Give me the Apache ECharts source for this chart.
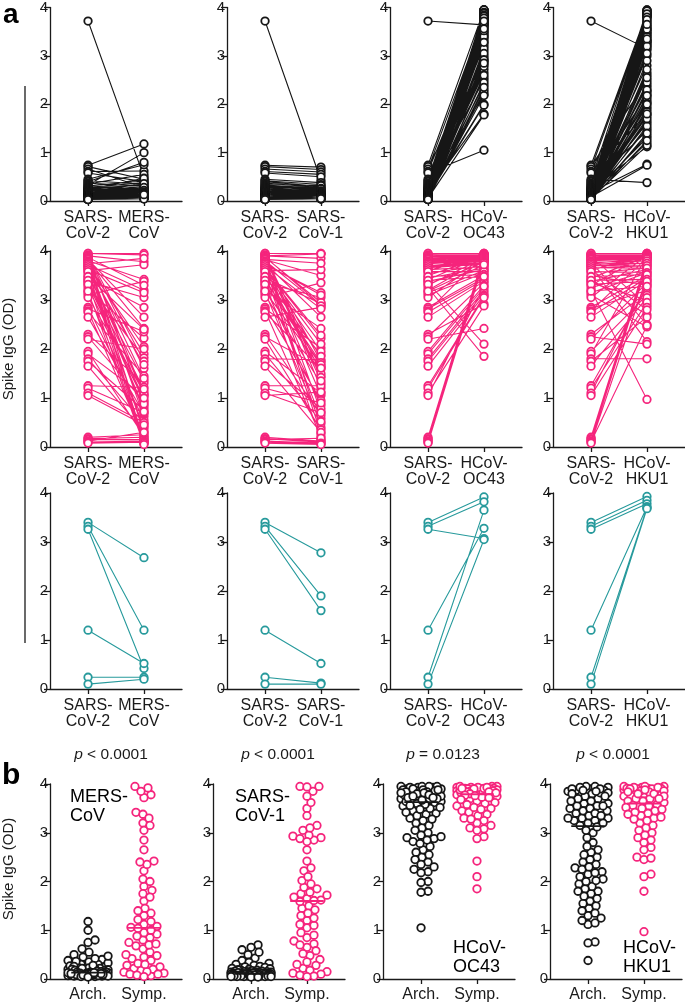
<!DOCTYPE html>
<html><head><meta charset="utf-8">
<script src="https://cdn.jsdelivr.net/npm/echarts@6/dist/echarts.min.js"></script>
<style>html,body{margin:0;padding:0;background:#fff}#c{width:685px;height:1005px}</style>
</head><body><div id="c"></div>
<script>
// ---------------- DATA ----------------
const antigenLabels = ['MERS-\nCoV', 'SARS-\nCoV-1', 'HCoV-\nOC43', 'HCoV-\nHKU1'];
const refLabel = 'SARS-\nCoV-2';
const groupLabels = ['Arch.', 'Symp.'];
const pTexts = ['< 0.0001', '< 0.0001', '= 0.0123', '< 0.0001'];
const yTicks = [0, 1, 2, 3, 4];

// archival (uninfected) samples, paired
const archSARS2 = [3.72,0.74,0.71,0.66,0.61,0.58,0.45,0.42,0.40,0.37,
  0.35,0.33,0.31,0.30,0.28,0.27,0.26,0.25,0.24,0.23,
  0.22,0.21,0.21,0.20,0.19,0.19,0.18,0.18,0.17,0.17,
  0.16,0.16,0.15,0.15,0.15,0.14,0.14,0.14,0.13,0.13,
  0.13,0.12,0.12,0.12,0.12,0.11,0.11,0.11,0.11,0.10,
  0.10,0.10,0.10,0.09,0.09,0.09,0.09,0.09,0.08,0.08,
  0.08,0.08,0.08,0.07,0.07,0.07,0.07,0.07,0.06,0.06,
  0.06,0.06,0.06,0.06,0.05,0.05,0.05,0.05,0.05,0.05,
  0.04,0.04,0.04,0.04,0.04,0.03,0.03,0.03,0.03,0.03];
const archMERS = [0.50,1.18,0.45,0.28,0.62,0.40,0.75,0.35,0.80,0.30,
  0.55,1.00,0.42,0.25,0.38,0.22,0.33,0.20,0.47,0.27,
  0.18,0.30,0.24,0.16,0.36,0.21,0.15,0.26,0.19,0.14,
  0.23,0.17,0.13,0.20,0.12,0.28,0.15,0.11,0.18,0.14,
  0.10,0.22,0.13,0.09,0.16,0.12,0.10,0.19,0.11,0.08,
  0.14,0.12,0.09,0.17,0.10,0.08,0.13,0.11,0.07,0.15,
  0.09,0.12,0.08,0.10,0.06,0.14,0.11,0.07,0.09,0.13,
  0.08,0.10,0.06,0.12,0.09,0.07,0.11,0.05,0.10,0.08,
  0.12,0.06,0.09,0.07,0.11,0.05,0.08,0.10,0.04,0.13];
const archSARS1 = [0.43,0.70,0.65,0.60,0.55,0.50,0.38,0.34,0.30,0.28,
  0.32,0.26,0.24,0.22,0.25,0.20,0.18,0.21,0.17,0.19,
  0.16,0.15,0.18,0.14,0.16,0.13,0.15,0.12,0.14,0.13,
  0.11,0.15,0.12,0.10,0.13,0.11,0.14,0.10,0.12,0.09,
  0.11,0.13,0.10,0.12,0.09,0.11,0.08,0.10,0.12,0.09,
  0.11,0.08,0.10,0.09,0.12,0.08,0.10,0.07,0.09,0.11,
  0.08,0.10,0.07,0.09,0.08,0.06,0.10,0.08,0.07,0.09,
  0.06,0.08,0.07,0.09,0.05,0.08,0.06,0.07,0.05,0.08,
  0.06,0.07,0.05,0.06,0.04,0.07,0.05,0.06,0.04,0.05];
const archOC43 = [3.64,3.95,2.90,3.80,3.45,1.05,3.86,3.20,3.90,2.50,
  3.75,3.93,3.38,2.20,3.84,3.62,3.88,3.00,3.70,3.95,
  2.65,3.55,3.82,1.80,3.90,3.30,3.67,3.86,2.40,3.78,
  3.50,3.93,3.10,3.88,2.82,3.72,3.95,3.25,3.84,2.00,
  3.60,3.90,3.80,2.95,3.67,3.86,3.42,2.30,3.93,3.75,
  3.15,3.88,1.98,3.58,3.84,3.95,2.72,3.70,3.35,3.82,
  3.90,2.55,3.78,3.48,3.86,3.05,3.64,3.88,2.25,3.72,
  3.40,3.84,1.78,3.80,3.52,3.67,2.88,3.75,3.28,2.18,
  3.82,2.60,3.78,3.56,2.92,3.72,2.45,2.78,2.85,2.35];
const archHKU1 = [3.15,3.90,2.50,3.85,1.80,3.30,0.38,3.95,2.20,3.60,
  3.82,1.45,3.50,3.87,2.80,3.25,1.12,3.93,3.40,2.05,
  3.70,3.85,2.35,3.55,1.60,3.90,3.20,0.76,3.80,2.65,
  3.45,3.87,1.95,3.30,3.65,2.15,3.82,1.30,3.95,3.00,
  3.55,2.40,3.75,1.75,3.90,3.35,2.10,3.85,1.20,3.50,
  3.93,2.60,3.70,1.50,3.30,3.82,2.28,0.74,3.60,3.87,
  1.90,3.45,2.90,3.80,1.65,3.25,3.40,2.02,3.75,1.35,
  3.55,3.12,3.65,2.45,3.20,1.85,3.35,2.25,1.15,2.72,
  1.55,2.00,1.70,2.30,1.40,2.55,1.80,2.18,1.25,3.05];

// symptomatic (infected) samples, paired
const sympSARS2 = [3.95,3.93,3.90,3.88,3.85,3.82,3.80,3.78,3.75,3.72,
  3.70,3.68,3.65,3.60,3.55,3.50,3.45,3.42,3.38,3.35,
  3.30,3.25,3.20,3.15,3.10,3.05,2.85,2.82,2.78,2.75,
  2.65,2.30,2.25,2.20,1.95,1.90,1.80,1.75,1.65,1.25,
  1.20,1.10,1.05,0.20,0.17,0.15,0.12,0.10,0.08,3.95,
  3.92,3.90,3.87,3.85,3.83,3.80,3.77,3.74,3.70,3.66,
  3.62,3.58,3.48,3.40,3.32,3.18];
const sympMERS = [3.95,0.85,3.78,1.60,0.28,2.42,3.42,0.62,1.90,3.20,
  0.14,2.05,1.06,3.72,0.38,1.35,2.85,0.80,3.05,0.07,
  1.82,0.95,2.22,0.42,3.38,1.12,0.55,2.35,0.18,1.45,
  0.68,1.30,0.92,2.00,0.22,1.04,0.48,0.75,0.32,1.22,
  0.70,0.50,0.45,0.25,0.20,0.15,0.30,0.12,0.10,3.92,
  1.75,0.88,3.30,1.08,2.65,0.10,1.40,3.85,0.72,1.68,
  3.15,0.08,2.40,1.18,1.00,0.05];
const sympSARS1 = [3.95,1.20,3.85,2.90,0.72,3.50,1.75,0.40,2.65,3.15,
  1.05,0.28,2.22,3.62,1.45,0.58,2.93,1.65,0.15,3.05,
  1.88,0.85,2.42,0.48,1.30,3.35,0.95,2.02,0.22,1.59,
  2.85,0.65,1.62,0.35,1.10,0.52,1.78,0.78,0.30,1.25,
  0.90,0.70,1.12,0.12,0.10,0.18,0.08,0.06,0.05,3.95,
  1.50,3.94,2.95,1.42,3.75,2.88,1.35,3.10,2.82,2.28,
  2.10,1.95,1.85,1.72,1.68,1.61];
const sympOC43 = [3.95,3.90,3.93,3.86,3.88,3.78,3.91,3.84,3.82,3.95,
  3.80,3.75,3.93,3.91,3.70,3.88,3.65,3.90,3.62,2.10,
  3.86,1.85,3.84,3.60,3.55,3.82,3.50,3.45,3.90,3.42,
  3.38,2.92,3.35,2.42,3.30,3.25,3.20,3.15,3.10,3.08,
  3.05,2.88,3.28,3.93,3.91,3.88,3.86,3.84,3.80,3.95,
  3.93,3.91,3.90,3.88,3.86,3.84,3.82,3.80,3.77,3.73,
  3.68,3.58,3.52,3.48,3.76,3.72];
const sympHKU1 = [3.95,3.88,3.93,2.90,3.91,3.86,3.90,2.50,3.84,3.80,
  3.75,2.15,3.70,3.95,3.65,3.30,3.88,2.70,3.62,3.00,
  3.93,3.58,0.97,3.55,2.45,3.91,3.50,3.20,3.86,3.45,
  3.40,3.15,2.10,3.35,3.10,3.90,1.80,2.65,3.05,3.25,
  2.95,3.32,2.85,3.84,3.80,3.75,3.70,2.48,3.48,3.95,
  3.93,3.91,3.90,3.88,3.86,3.84,3.80,3.75,3.70,3.65,
  2.80,3.56,3.52,3.42,3.38,3.28];

// third cohort (teal), paired
const tealSARS2 = [3.40,3.32,3.26,1.20,0.24,0.10];
const tealMERS  = [2.68,1.20,0.42,0.52,0.24,0.20];
const tealSARS1 = [2.78,1.90,1.60,0.52,0.12,0.10];
const tealOC43  = [3.92,3.82,3.07,3.28,3.65,3.05];
const tealHKU1  = [3.93,3.85,3.78,3.72,3.70,3.68];

// ---------------- LAYOUT / STYLE ----------------
const BLACK = '#161616', PINK = '#f5247c', TEAL = '#279a9c', AXIS = '#1a1a1a';
const FONT = 'Liberation Sans, Arial, Helvetica, sans-serif';
const rows = [
  {ref: archSARS2, other: [archMERS, archSARS1, archOC43, archHKU1], color: BLACK},
  {ref: sympSARS2, other: [sympMERS, sympSARS1, sympOC43, sympHKU1], color: PINK},
  {ref: tealSARS2, other: [tealMERS, tealSARS1, tealOC43, tealHKU1], color: TEAL}
];
const colLeftA = [50, 227, 390, 553];
const rowTopA = [5, 251, 493];
const colLeftB = [50, 213, 383, 550];
const GW = 132, GH = 196, TOPB = 784, GHB = 195;
const XMIN = 0.32, XMAX = 2.68;
const pxX = GW / (XMAX - XMIN), pxY = GHB / 4;
const SYM = 7.5, SYMW = 1.8;

function median(a) {
  const s = a.slice().sort((x, y) => x - y), n = s.length;
  return n % 2 ? s[(n - 1) / 2] : (s[n / 2 - 1] + s[n / 2]) / 2;
}
// beeswarm layout: horizontal offsets so circles do not overlap (layout only)
function swarm(values, center) {
  const order = values.map((v, i) => i).sort((a, b) => values[a] - values[b]);
  const placed = [], out = new Array(values.length);
  const D = 7, MAXO = 20;
  for (const i of order) {
    const y = values[i] * pxY;
    let best = 0, bestScore = -1;
    for (let k = 0; k <= 2 * MAXO; k++) {
      const off = (k % 2 ? 1 : -1) * Math.ceil(k / 2);
      let md = Infinity;
      for (const p of placed) {
        const d = Math.hypot(p[0] - off, p[1] - y);
        if (d < md) md = d;
      }
      if (md >= D) { best = off; bestScore = Infinity; break; }
      if (md > bestScore + 0.01) { bestScore = md; best = off; }
    }
    placed.push([best, y]);
    out[i] = [center + best / pxX, values[i]];
  }
  return out;
}

const grids = [], xAxes = [], yAxes = [], series = [];
function addGrid(left, top, height, labelFn, labelMargin) {
  const g = grids.length;
  grids.push({left: left, top: top, width: GW, height: height});
  xAxes.push({gridIndex: g, type: 'value', min: XMIN, max: XMAX,
    splitLine: {show: false},
    axisLine: {lineStyle: {color: AXIS, width: 1.3}},
    axisTick: {customValues: [1, 2], length: 5, lineStyle: {color: AXIS, width: 1.3}},
    axisLabel: {customValues: [1, 2], formatter: labelFn, color: AXIS, fontSize: 16,
      lineHeight: 16, fontFamily: FONT, margin: labelMargin}});
  yAxes.push({gridIndex: g, type: 'value', min: 0, max: 4, interval: 1,
    splitLine: {show: false},
    axisLine: {show: true, lineStyle: {color: AXIS, width: 1.3}},
    axisTick: {show: true, length: 6, lineStyle: {color: AXIS, width: 1.3}},
    axisLabel: {color: AXIS, fontSize: 15, fontFamily: FONT, margin: 2,
      formatter: v => yTicks.includes(v) ? String(v) : ''}});
  return g;
}

// panel a
rows.forEach((row, r) => {
  for (let c = 0; c < 4; c++) {
    const g = addGrid(colLeftA[c], rowTopA[r], GH,
      v => v === 1 ? refLabel : (v === 2 ? antigenLabels[c] : ''), 9);
    const other = row.other[c];
    const lineData = [];
    const pts = [];
    row.ref.forEach((v, i) => {
      lineData.push([1, v], [2, other[i]], ['-', '-']);
      pts.push([1, v], [2, other[i]]);
    });
    series.push({type: 'line', xAxisIndex: g, yAxisIndex: g, data: lineData,
      showSymbol: false, silent: true, connectNulls: false, z: 2,
      lineStyle: {color: row.color, width: 1.1}});
    series.push({type: 'scatter', xAxisIndex: g, yAxisIndex: g, data: pts,
      symbol: 'circle', symbolSize: SYM, silent: true, z: 3,
      itemStyle: {color: '#fff', borderColor: row.color, borderWidth: SYMW, opacity: 1}});
  }
});

// panel b
for (let c = 0; c < 4; c++) {
  const g = addGrid(colLeftB[c], TOPB, GHB,
    v => v === 1 ? groupLabels[0] : (v === 2 ? groupLabels[1] : ''), 8);
  const groups = [[rows[0].other[c], 1, BLACK], [rows[1].other[c], 2, PINK]];
  groups.forEach(([vals, cx, col]) => {
    series.push({type: 'scatter', xAxisIndex: g, yAxisIndex: g, data: swarm(vals, cx),
      symbol: 'circle', symbolSize: SYM, silent: true, z: 3,
      itemStyle: {color: '#fff', borderColor: col, borderWidth: SYMW, opacity: 1}});
    const m = median(vals);
    series.push({type: 'line', xAxisIndex: g, yAxisIndex: g,
      data: [[cx - 0.3, m], [cx + 0.3, m]], showSymbol: false, silent: true, z: 4,
      lineStyle: {color: col, width: 1.8}});
  });
}

// text annotations
const graphic = [
  {type: 'text', x: 3, y: 1, style: {text: 'a', fontSize: 28, fontWeight: 'bold', fontFamily: FONT, fill: '#000'}},
  {type: 'text', x: 2, y: 761, style: {text: 'b', fontSize: 30, fontWeight: 'bold', fontFamily: FONT, fill: '#000'}},
  {type: 'line', shape: {x1: 25, y1: 86, x2: 25, y2: 643}, style: {stroke: AXIS, lineWidth: 1.3}},
  {type: 'text', x: 9, y: 349, rotation: Math.PI / 2,
    style: {text: 'Spike IgG (OD)', fontSize: 15, fontFamily: FONT, fill: AXIS,
      align: 'center', verticalAlign: 'middle', textAlign: 'center', textVerticalAlign: 'middle'}},
  {type: 'text', x: 9, y: 869, rotation: Math.PI / 2,
    style: {text: 'Spike IgG (OD)', fontSize: 15, fontFamily: FONT, fill: AXIS,
      align: 'center', verticalAlign: 'middle', textAlign: 'center', textVerticalAlign: 'middle'}}
];
const pX = [111, 278, 443, 613];
pTexts.forEach((t, c) => {
  graphic.push({type: 'text', x: pX[c], y: 755,
    style: {text: '{i|p} ' + t, fontSize: 15.5, fontFamily: FONT, fill: AXIS,
      align: 'center', verticalAlign: 'middle', textAlign: 'center', textVerticalAlign: 'middle',
      rich: {i: {fontStyle: 'italic', fontSize: 15.5, fontFamily: FONT, fill: AXIS}}}});
});
const annPos = [[70, 788], [235, 788], [453, 939], [623, 939]];
antigenLabels.forEach((t, c) => {
  graphic.push({type: 'text', x: annPos[c][0], y: annPos[c][1],
    style: {text: t, fontSize: 18, lineHeight: 19, fontFamily: FONT, fill: '#000'}});
});

const chart = echarts.init(document.getElementById('c'), null, {renderer: 'canvas'});
chart.setOption({animation: false, backgroundColor: '#fff',
  grid: grids, xAxis: xAxes, yAxis: yAxes, series: series, graphic: graphic});
</script></body></html>
